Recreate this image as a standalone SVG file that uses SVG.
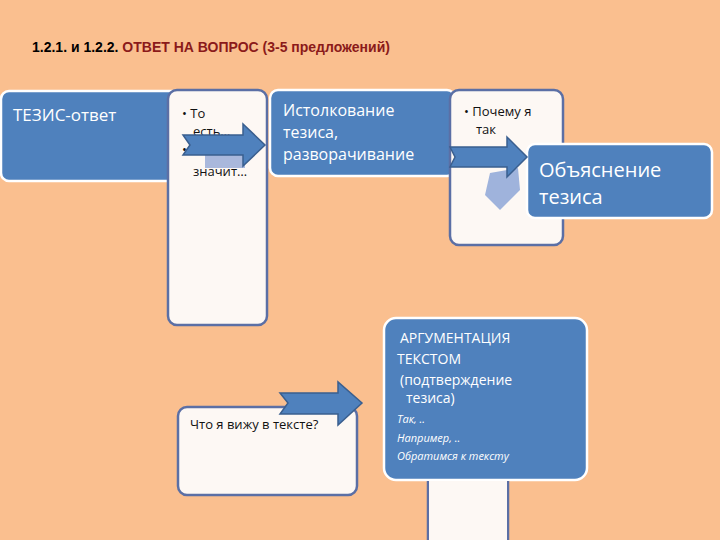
<svg xmlns="http://www.w3.org/2000/svg" width="720" height="540" viewBox="0 0 720 540">
<style>
.blue{fill:#4f81bd;stroke:#fff;stroke-width:2.5}
.white{fill:#fdf8f4;stroke:#5b6fa5;stroke-width:2.5}
.arr{fill:#4f81bd;stroke:#3a5f8f;stroke-width:1.5}
text{font-family:"Open Sans","DejaVu Sans",sans-serif}
.wt{fill:#fff}
.bk{fill:#111}
</style>
<rect width="720" height="540" fill="#fabf8f"/>
<text x="32" y="52" font-family="Liberation Sans,sans-serif" font-size="14" font-weight="bold" style="font-family:'Liberation Sans',sans-serif"><tspan fill="#000">1.2.1. и 1.2.2. </tspan><tspan fill="#8b1a1a">ОТВЕТ НА ВОПРОС (3-5 предложений)</tspan></text>
<g id="teza"><rect class="blue" x="1" y="91" width="180" height="90" rx="8"/><text class="wt" x="13" y="121" font-size="17">ТЕЗИС-ответ</text></g>
<g id="box1"><rect class="white" x="168" y="90" width="99" height="235" rx="9"/>
<text class="bk" x="182" y="118" font-size="13">• То</text><text class="bk" x="193" y="136" font-size="13">есть…</text><text class="bk" x="182" y="154" font-size="13">• </text><text class="bk" x="193" y="176" font-size="13">значит…</text></g>
<g id="ist"><rect class="blue" x="270" y="90" width="185" height="86" rx="8"/><text class="wt" font-size="16"><tspan x="283" y="116">Истолкование</tspan><tspan x="283" y="138">тезиса,</tspan><tspan x="283" y="160">разворачивание</tspan></text></g>
<g id="box2"><rect class="white" x="450" y="90" width="113" height="155" rx="9"/>
<text class="bk" x="464" y="116" font-size="13">• Почему я</text><text class="bk" x="476" y="134" font-size="13">так</text>
<polygon points="490,173 518,168 520,190 500,210 485,195" fill="#9fb3dc"/></g>
<g id="obj"><rect class="blue" x="527" y="144" width="185" height="74" rx="8"/><text class="wt" font-size="20"><tspan x="539" y="177">Объяснение</tspan><tspan x="539" y="204">тезиса</tspan></text></g>
<g id="arg"><rect class="blue" x="384" y="318" width="203" height="162" rx="12"/>
<text class="wt" font-size="14"><tspan x="400" y="343">АРГУМЕНТАЦИЯ</tspan><tspan x="397" y="364">ТЕКСТОМ</tspan><tspan x="400" y="385">(подтверждение</tspan><tspan x="406" y="403">тезиса)</tspan></text>
<text class="wt" font-size="11" font-style="italic"><tspan x="397" y="423">Так, ..</tspan><tspan x="397" y="442">Например, ..</tspan><tspan x="397" y="460">Обратимся к тексту</tspan></text></g>
<g id="argbelow"><path d="M428 481 V540 M508 481 V540" stroke="#5b6fa5" stroke-width="2.5"/><rect x="429" y="481" width="78" height="60" fill="#fdf8f4"/></g>
<g id="vizhu"><rect class="white" x="178" y="407" width="179" height="88" rx="9"/><text class="bk" x="190" y="429" font-size="13">Что я вижу в тексте?</text></g>
<g id="connectors">
<rect x="205" y="152" width="40" height="16" fill="#a9b8dc"/>
<polygon class="arr" points="183,135 243,135 243,124 265,145 243,166 243,155 183,155 190,145"/>
<polygon class="arr" points="450,147 507,147 507,137 527,157 507,177 507,167 450,167 455,157"/>
<polygon class="arr" points="280,393 338,393 338,382 362,403 338,425 338,414 280,414 288,403"/>
</g>
</svg>
